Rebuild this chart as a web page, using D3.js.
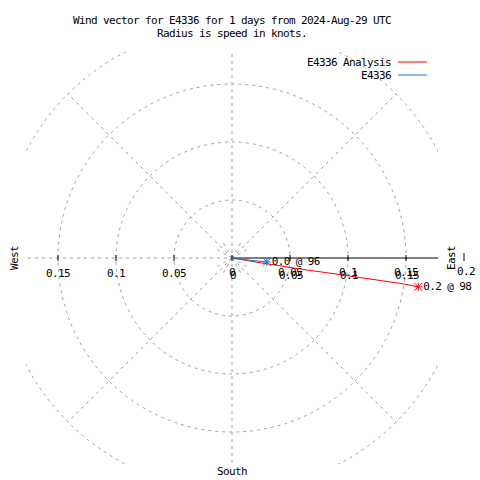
<!DOCTYPE html>
<html><head><meta charset="utf-8">
<script src="https://cdn.jsdelivr.net/npm/d3@7"></script>
<style>
body{margin:0;background:#fff;}
text{font-family:"DejaVu Sans Mono","Liberation Mono",monospace;font-size:11px;letter-spacing:-0.62px;fill:#000;}
</style></head>
<body><svg id="c" width="480" height="480"></svg>
<script>
// ---- data ----
const titleLines = ["Wind vector for E4336 for 1 days from 2024-Aug-29 UTC", "Radius is speed in knots."];
const seriesNames = ["E4336 Analysis", "E4336"];
const seriesColors = ["#ff0000", "#1874cd"];
const gridRadii = [0.05, 0.1, 0.15, 0.2];
const axisTicks = [0, 0.05, 0.1, 0.15, 0.2];
const leftTickLabels = ["0", "0.05", "0.1", "0.15"];
const rightTickLabels = ["0", "0.05", "0.1", "0.15"];
const spokeAngles = [45, 135, 225, 315];
// progressive vector vertices: bearing (deg from north, clockwise) and radius (knots)
const analysisBearing = [0, 99.5, 99.1, 98.7, 98.6, 98.8];
const analysisSpeed = [0, 0.026, 0.0655, 0.0968, 0.149, 0.1625];
const obsBearing = [0, 97, 96.5];
const obsSpeed = [0, 0.015, 0.0302];
const endLabels = ["0.2 @ 98", "0.0 @ 96"];
const compassLabels = ["West", "East", "South"];

// ---- layout ----
const svg = d3.select("#c");
const cx = 232, cy = 258;
const r = d3.scaleLinear().domain([0, 0.2]).range([0, 232]);
const clipHalf = r(0.1776);
const xS = d3.scaleLinear().domain([-0.2, 0.2]).range([cx - 232, cx + 232]);
const pt = (b, s) => [cx + r(s) * Math.sin(b * Math.PI / 180), cy - r(s) * Math.cos(b * Math.PI / 180)];

svg.append("defs").append("clipPath").attr("id", "pc").append("rect")
  .attr("x", cx - clipHalf).attr("y", cy - clipHalf).attr("width", 2 * clipHalf).attr("height", 2 * clipHalf);

const grid = svg.append("g").attr("clip-path", "url(#pc)")
  .attr("stroke", "#a0a0a0").attr("fill", "none").attr("stroke-dasharray", "3,4");
grid.selectAll("circle").data(gridRadii).join("circle")
  .attr("cx", cx).attr("cy", cy).attr("r", d => r(d));
grid.append("line").attr("x1", cx).attr("x2", cx).attr("y1", cy - r(0.2)).attr("y2", cy + r(0.2));
grid.append("line").attr("x1", cx - r(0.2)).attr("x2", cx).attr("y1", cy).attr("y2", cy);
grid.selectAll("line.sp").data(spokeAngles).join("line").attr("class", "sp")
  .attr("x1", cx).attr("y1", cy)
  .attr("x2", d => pt(d, 0.2)[0]).attr("y2", d => pt(d, 0.2)[1]);
grid.selectAll("line.ss").data([30, 60, 120, 150, 210, 240, 300, 330]).join("line").attr("class", "ss")
  .attr("x1", cx).attr("y1", cy)
  .attr("x2", d => pt(d, 0.016)[0]).attr("y2", d => pt(d, 0.016)[1]);

// x axis (solid on right side)
svg.append("line").attr("x1", cx).attr("x2", cx + clipHalf).attr("y1", cy).attr("y2", cy)
  .attr("stroke", "#000");
// ticks on both sides
const tk = svg.append("g").attr("stroke", "#000");
tk.selectAll("line.r").data(axisTicks).join("line").attr("class", "r")
  .attr("x1", d => xS(d)).attr("x2", d => xS(d)).attr("y1", d => d === 0.2 ? cy - 5 : cy - 3).attr("y2", cy + 3);
tk.selectAll("line.l").data(axisTicks.slice(1, 4)).join("line").attr("class", "l")
  .attr("x1", d => xS(-d)).attr("x2", d => xS(-d)).attr("y1", cy - 3).attr("y2", cy + 3);

// tick labels
const lab = svg.append("g").attr("text-anchor", "middle");
lab.selectAll("text.l").data(leftTickLabels.slice(1)).join("text").attr("class", "l")
  .attr("x", (d) => xS(-(+d))).attr("y", 277).text(d => d);
[0, 1].forEach(k => {
  lab.selectAll("text.r" + k).data(rightTickLabels).join("text").attr("class", "r" + k)
    .attr("x", d => xS(+d) + k).attr("y", 276 + 3 * k).text(d => d);
});
lab.append("text").attr("x", xS(0.2) + 2).attr("y", 275).text("0.2");

// compass labels
svg.append("text").attr("text-anchor", "middle").attr("transform", `translate(18,${cy}) rotate(-90)`).text(compassLabels[0]);
svg.append("text").attr("text-anchor", "middle").attr("transform", `translate(455,${cy}) rotate(-90)`).text(compassLabels[1]);
svg.append("text").attr("text-anchor", "middle").attr("x", cx).attr("y", 475).text(compassLabels[2]);

// title
svg.selectAll("text.t").data(titleLines).join("text").attr("class", "t")
  .attr("text-anchor", "middle").attr("x", cx).attr("y", (d, i) => 24 + 13 * i).text(d => d);

// legend
seriesNames.forEach((n, i) => {
  const y = 62 + 13 * i;
  svg.append("text").attr("text-anchor", "end").attr("x", 391).attr("y", y + 4).text(n);
  svg.append("line").attr("x1", 398).attr("x2", 427).attr("y1", y).attr("y2", y)
    .attr("stroke", seriesColors[i]);
});

// series
const series = [[analysisBearing, analysisSpeed], [obsBearing, obsSpeed]];
const line = d3.line();
const star = (x, y, s) => `M${x - s},${y}H${x + s}M${x},${y - s}V${y + s}M${x - s},${y - s}L${x + s},${y + s}M${x - s},${y + s}L${x + s},${y - s}`;
series.forEach(([bs, ss], i) => {
  const pts = bs.map((b, j) => pt(b, ss[j]));
  svg.append("path").attr("d", line(pts)).attr("fill", "none").attr("stroke", seriesColors[i]).attr("stroke-width", 1);
  const e = pts[pts.length - 1];
  svg.append("path").attr("d", star(e[0], e[1], 4)).attr("stroke", seriesColors[i]).attr("fill", "none");
  svg.append("text").attr("x", e[0] + 5).attr("y", e[1] + 3).text(endLabels[i]);
});
</script></body></html>
